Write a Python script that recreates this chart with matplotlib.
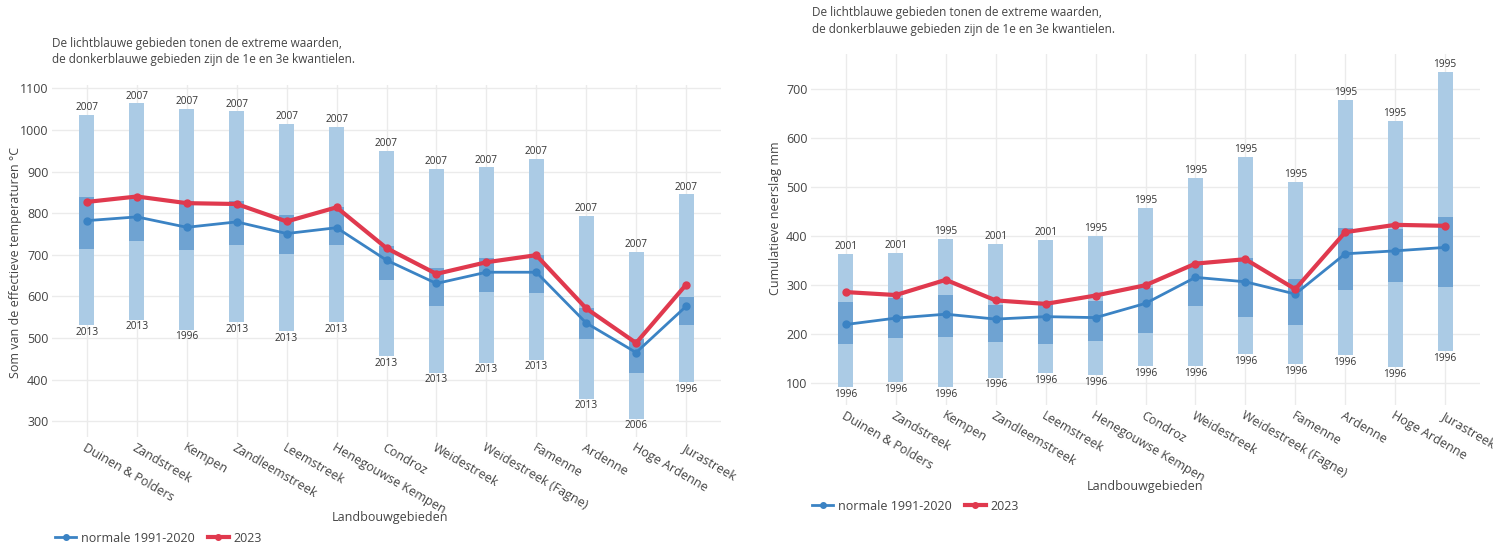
import matplotlib.pyplot as plt
import numpy as np
from matplotlib.lines import Line2D

plt.rcParams['font.family'] = ['Open Sans', 'DejaVu Sans']

regions = ['Duinen & Polders', 'Zandstreek', 'Kempen', 'Zandleemstreek', 'Leemstreek',
           'Henegouwse Kempen', 'Condroz', 'Weidestreek', 'Weidestreek (Fagne)', 'Famenne',
           'Ardenne', 'Hoge Ardenne', 'Jurastreek']

# effectieve temperaturen (°C)
temp_min = [530, 544, 520, 538, 516, 538, 456, 417, 441, 448, 354, 306, 393]
temp_q1 = [714, 732, 711, 723, 702, 724, 639, 578, 610, 608, 498, 415, 530]
temp_q3 = [839, 840, 830, 830, 796, 814, 720, 667, 692, 700, 572, 498, 598]
temp_max = [1036, 1064, 1050, 1045, 1014, 1008, 950, 906, 910, 931, 794, 707, 845]
temp_normal = [782, 791, 766, 779, 751, 765, 687, 631, 658, 658, 536, 465, 576]
temp_2023 = [827, 840, 824, 822, 780, 814, 716, 654, 682, 699, 571, 488, 628]
temp_min_year = ['2013', '2013', '1996', '2013', '2013', '2013', '2013', '2013', '2013', '2013', '2013', '2006', '1996']
temp_max_year = ['2007'] * 13

# neerslag (mm)
rain_min = [93, 103, 93, 112, 122, 117, 135, 135, 159, 139, 158, 134, 165]
rain_q1 = [180, 192, 194, 185, 180, 187, 203, 258, 235, 219, 290, 307, 296]
rain_q3 = [265, 273, 280, 260, 265, 268, 294, 341, 355, 312, 417, 414, 438]
rain_max = [364, 365, 394, 384, 392, 400, 457, 519, 561, 511, 678, 635, 735]
rain_normal = [220, 233, 241, 231, 236, 234, 263, 316, 307, 282, 364, 370, 377]
rain_2023 = [286, 280, 311, 269, 262, 279, 300, 344, 353, 292, 408, 423, 421]
rain_min_year = ['1996'] * 13
rain_max_year = ['2001', '2001', '1995', '2001', '2001', '1995', '1995', '1995', '1995', '1995', '1995', '1995', '1995']

LIGHT = '#abcbe5'
DARK = '#6fa3d2'
BLUE = '#3b83c4'
RED = '#e0394e'
GRID = '#ebebeb'
TXT = '#444444'

W, H = 1493, 545
fig = plt.figure(figsize=(W / 100, H / 100), dpi=100)


def px_axes(x0, y0, x1, y1):
    return fig.add_axes([x0 / W, 1 - y1 / H, (x1 - x0) / W, (y1 - y0) / H])


def draw_panel(ax, vmin, q1, q3, vmax, normal, cur, ymin_lbl, ymax_lbl, ylim, yticks, ylabel, pad):
    x = np.arange(len(regions))
    bw = 0.3
    ax.bar(x, np.array(vmax) - np.array(vmin), bottom=vmin, width=bw, color=LIGHT, zorder=2)
    ax.bar(x, np.array(q3) - np.array(q1), bottom=q1, width=bw, color=DARK, zorder=3)
    ax.plot(x, normal, color=BLUE, lw=2, marker='o', ms=5, zorder=4)
    ax.plot(x, cur, color=RED, lw=3, marker='o', ms=5, zorder=5)
    for i in range(len(regions)):
        ax.text(x[i], vmax[i] + pad, ymax_lbl[i], ha='center', va='bottom', fontsize=7.3, color='#333333', zorder=6)
        ax.text(x[i], vmin[i] - pad, ymin_lbl[i], ha='center', va='top', fontsize=7.3, color='#333333', zorder=6)
    ax.set_xlim(-0.7, 12.7)
    ax.set_ylim(*ylim)
    ax.set_yticks(yticks)
    ax.set_xticks(x)
    ax.set_xticklabels(regions, rotation=-30, ha='left', va='top', rotation_mode='anchor')
    ax.tick_params(axis='both', length=0, labelsize=9, colors=TXT)
    ax.tick_params(axis='x', pad=3)
    ax.tick_params(axis='y', pad=2.5)
    ax.grid(True, color=GRID, lw=1, zorder=0)
    ax.set_axisbelow(True)
    for s in ax.spines.values():
        s.set_visible(False)
    ax.set_ylabel(ylabel, fontsize=9, color=TXT)
    ax.set_xlabel('Landbouwgebieden', fontsize=9, color=TXT)


# links: temperatuur
ax1 = px_axes(52, 85, 721, 437)
draw_panel(ax1, temp_min, temp_q1, temp_q3, temp_max, temp_normal, temp_2023,
           temp_min_year, temp_max_year, (262, 1108), range(300, 1101, 100),
           'Som van de effectieve temperaturen °C', 4)
ax1.xaxis.set_label_coords((390 - 52) / 669, -(511 - 437) / 352)
ax1.yaxis.set_label_coords(-(52 - 22) / 669, (437 - 262) / 352)

# rechts: neerslag
ax2 = px_axes(811, 54, 1480, 405)
draw_panel(ax2, rain_min, rain_q1, rain_q3, rain_max, rain_normal, rain_2023,
           rain_min_year, rain_max_year, (56, 771), range(100, 701, 100),
           'Cumulatieve neerslag mm', 4)
ax2.xaxis.set_label_coords((1145 - 811) / 669, -(480 - 405) / 351)
ax2.yaxis.set_label_coords(-(811 - 782) / 669, (405 - 218) / 351)

note = 'De lichtblauwe gebieden tonen de extreme waarden,\nde donkerblauwe gebieden zijn de 1e en 3e kwantielen.'
fig.text(52 / W, 1 - 37 / H, note, ha='left', va='top', fontsize=8.5, color=TXT, linespacing=1.35)
fig.text(812 / W, 1 - 6 / H, note, ha='left', va='top', fontsize=8.5, color=TXT, linespacing=1.35)

handles = [Line2D([], [], color=BLUE, lw=2, marker='o', ms=4),
           Line2D([], [], color=RED, lw=3, marker='o', ms=4)]
labels = ['normale 1991-2020', '2023']
for lx, ly in [(55, 538), (812, 506)]:
    fig.legend(handles, labels, loc='center left', bbox_to_anchor=(lx / W, 1 - ly / H),
               ncol=2, frameon=False, fontsize=9, handlelength=1.7, handletextpad=0.4,
               columnspacing=1.0, labelcolor=TXT, borderaxespad=0, borderpad=0)

fig.savefig('out.png', dpi=100)
